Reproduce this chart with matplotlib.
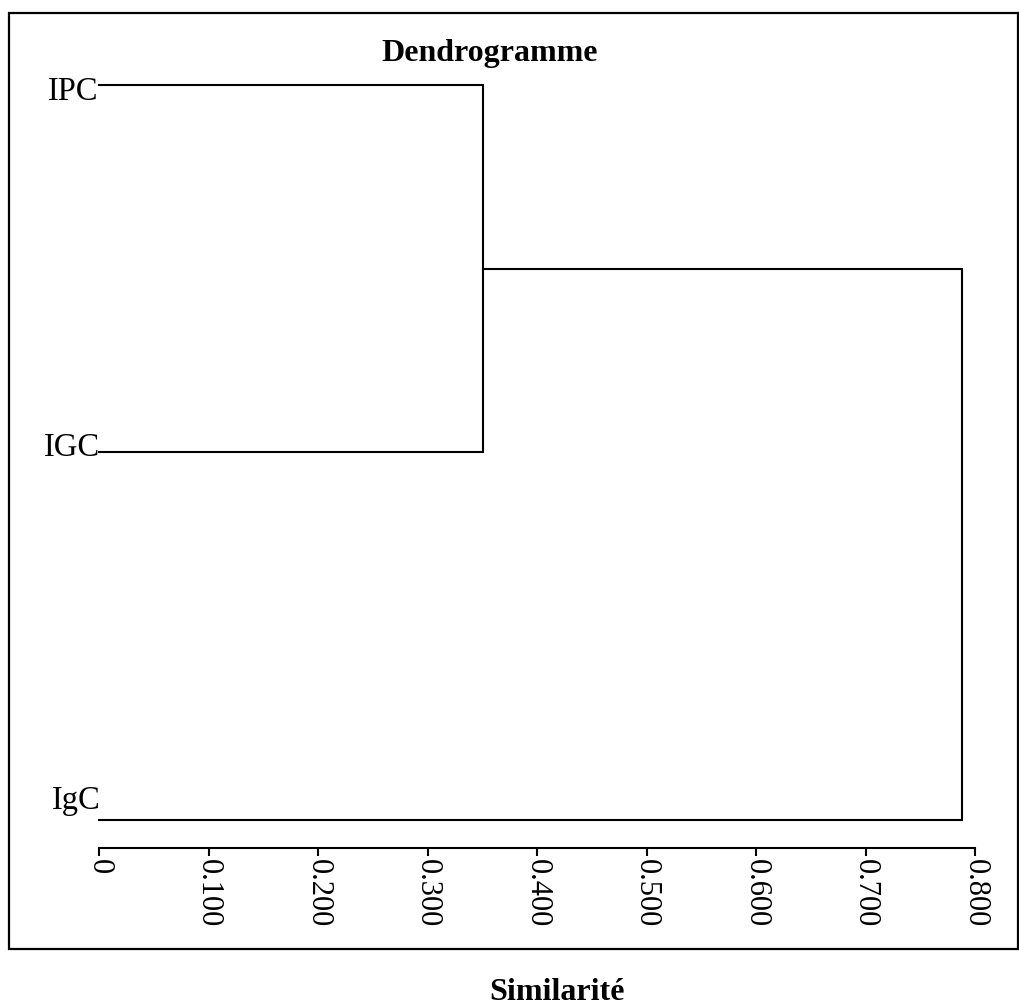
import matplotlib
matplotlib.use("Agg")
import matplotlib.pyplot as plt
from matplotlib.patches import Rectangle

plt.rcParams['font.family'] = ['Liberation Serif', 'DejaVu Serif']

# data
leaves = ['IPC', 'IGC', 'IgC']
merge_heights = [0.351, 0.788]   # IPC+IGC, then (IPC,IGC)+IgC
tick_values = [0, 0.1, 0.2, 0.3, 0.4, 0.5, 0.6, 0.7, 0.8]
tick_labels = ['0', '0.100', '0.200', '0.300', '0.400', '0.500', '0.600', '0.700', '0.800']

W, H = 1019, 1008
fig = plt.figure(figsize=(W / 100, H / 100), dpi=100)

# axes placed in pixel terms
left, right, top, bottom = 99, 975, 85, 848
ax = fig.add_axes([left / W, 1 - bottom / H, (right - left) / W, (bottom - top) / H])

ypos = {name: i for i, name in enumerate(leaves)}
lw = 1.5
h1, h2 = merge_heights
y_ipc, y_igc, y_igc2 = ypos['IPC'], ypos['IGC'], ypos['IgC']
node1 = (y_ipc + y_igc) / 2

ax.plot([0, h1, h1, 0], [y_ipc, y_ipc, y_igc, y_igc], color='black', lw=lw,
        clip_on=False, solid_joinstyle='miter')
ax.plot([h1, h2, h2, 0], [node1, node1, y_igc2, y_igc2], color='black', lw=lw,
        clip_on=False, solid_joinstyle='miter')

# leaf labels (small offsets as in the original)
offsets = {'IPC': 15, 'IGC': 4, 'IgC': -11}
xshift = {'IPC': -1, 'IGC': 1, 'IgC': 2}
for name in leaves:
    ax.annotate(name, xy=(0, ypos[name]), xytext=(xshift[name], -offsets[name]),
                textcoords='offset pixels', ha='right', va='baseline',
                fontsize=23.5, annotation_clip=False)

ax.set_xlim(0, 0.8)
ax.set_ylim(len(leaves) - 1 + (bottom - 820) / ((820 - top) / 2), 0)
ax.set_xticks(tick_values)
ax.set_xticklabels(tick_labels, rotation=270, fontsize=22, va='top', ha='center')
ax.set_yticks([])
for s in ['top', 'right', 'left']:
    ax.spines[s].set_visible(False)
ax.spines['bottom'].set_linewidth(lw)
ax.tick_params(axis='x', direction='out', length=6, width=lw, pad=2)
ax.patch.set_alpha(0)

# outer frame
fig.patches.append(Rectangle((9 / W, 1 - 949 / H), (1018 - 9) / W, (949 - 13) / H,
                             transform=fig.transFigure, fill=False,
                             edgecolor='black', lw=1.6))

fig.text(490 / W, 1 - 54 / H, 'Dendrogramme', fontsize=23, fontweight='bold',
         ha='center', va='center')
fig.text(557 / W, 1 - 1000 / H, 'Similarité', fontsize=23, fontweight='bold',
         ha='center', va='baseline')

fig.savefig('out.png', dpi=100)
